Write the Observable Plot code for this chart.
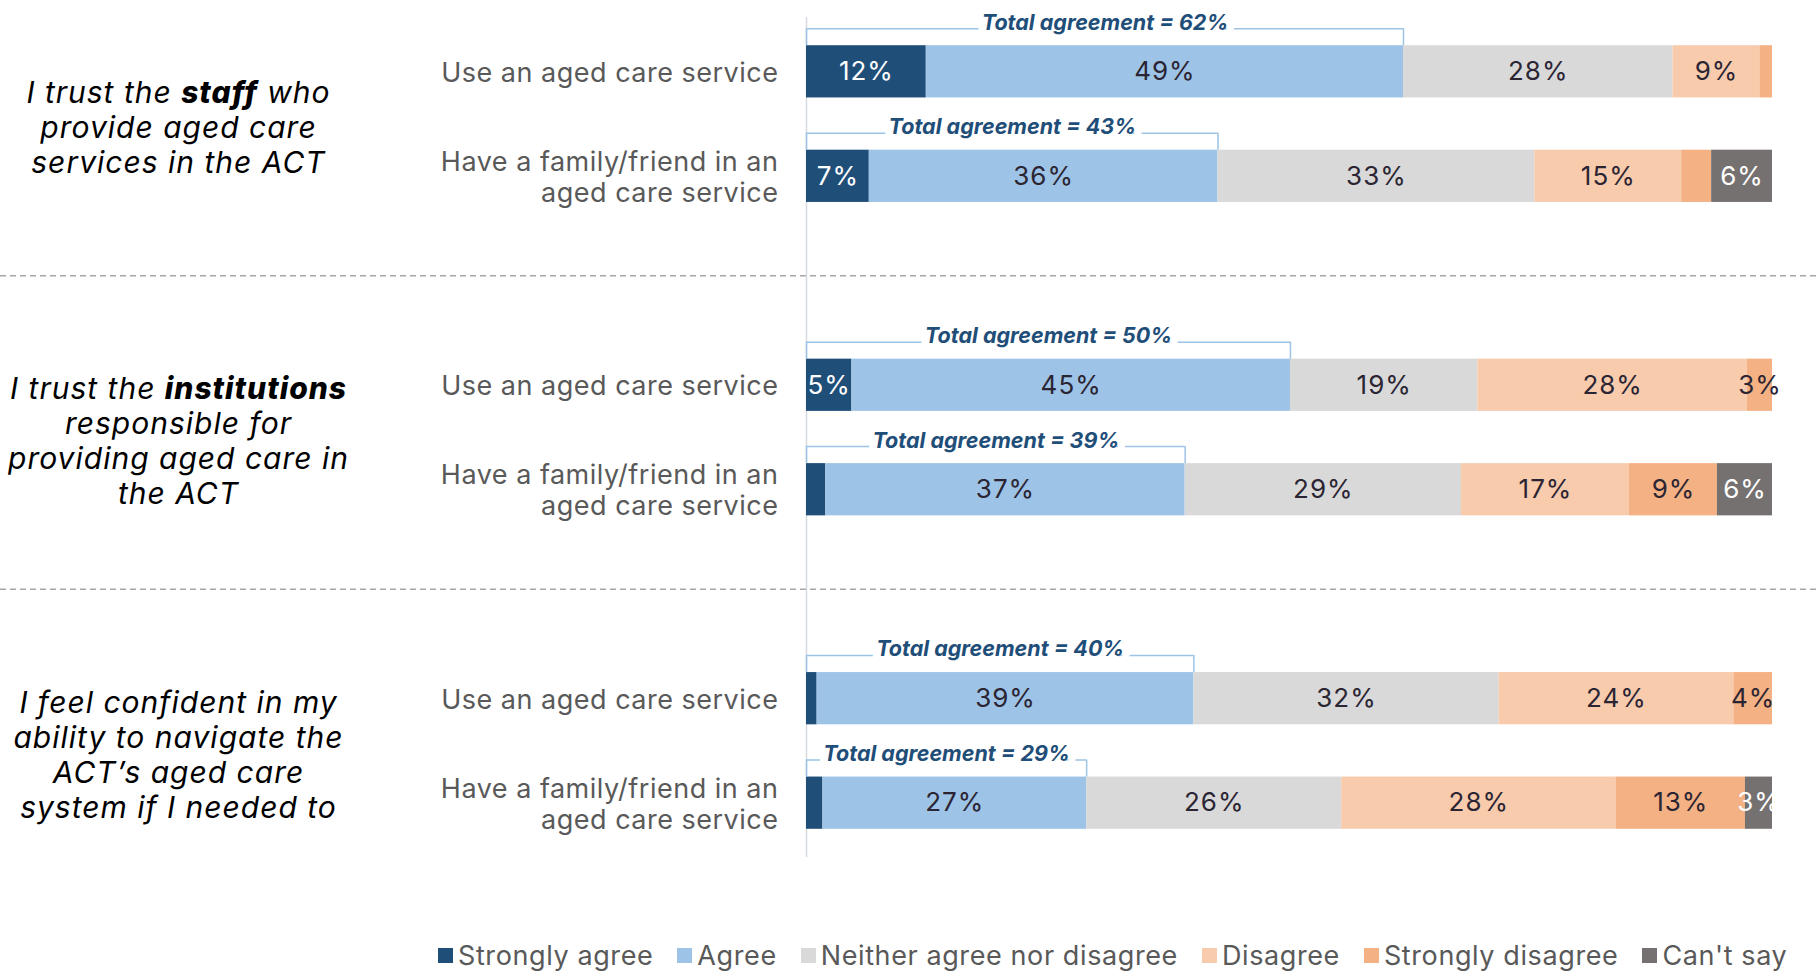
<!DOCTYPE html>
<html>
<head>
<meta charset="utf-8">
<script src="https://cdn.jsdelivr.net/npm/d3@7"></script>
<script src="https://cdn.jsdelivr.net/npm/@observablehq/plot@0.6"></script>
<style>
  html, body { margin: 0; padding: 0; background: #fff; }
  body { width: 1816px; height: 973px; overflow: hidden; font-family: Inter, "Open Sans", sans-serif; }
  #legend { margin-left: 438px; margin-top: 9px; }
  .lg-swatches { font-family: Inter, "Open Sans", sans-serif !important; font-size: 27px !important; letter-spacing: 0.6px; color: #595959 !important; margin: 0 !important; }
  .lg-swatch { margin-right: 24px !important; }
  .lg-swatch > svg { margin-right: 5px !important; }
</style>
</head>
<body>
<div id="chart"></div>
<div id="legend"></div>
<script>
// ---------- data ----------
const categories = ["Strongly agree", "Agree", "Neither agree nor disagree", "Disagree", "Strongly disagree", "Can't say"];
const colors = ["#1f4e79", "#9dc3e6", "#d9d9d9", "#f8cbad", "#f4b183", "#767171"];

const statements = [
  "I trust the staff who\nprovide aged care\nservices in the ACT",
  "I trust the institutions\nresponsible for\nproviding aged care in\nthe ACT",
  "I feel confident in my\nability to navigate the\nACT’s aged care\nsystem if I needed to"
];
const statementKeywords = ["staff", "institutions", null];
const respondents = ["Use an aged care service", "Have a family/friend in an\naged care service"];

// rows: statement 1 (use, family), statement 2 (use, family), statement 3 (use, family)
const stronglyAgree    = [12.4,  6.5,  4.7,  2.0,  1.1,  1.7];
const agree            = [49.4, 36.1, 45.4, 37.2, 39.0, 27.3];
const neither          = [27.9, 32.8, 19.4, 28.6, 31.6, 26.4];
const disagree         = [ 9.0, 15.2, 27.9, 17.4, 24.3, 28.4];
const stronglyDisagree = [ 1.3,  3.1,  2.6,  9.1,  4.0, 13.4];
const cantSay          = [ 0,    6.3,  0,    5.7,  0,    2.8];
// segments shown without a value label: [row, category]
const unlabeled = [[0, "Strongly disagree"], [1, "Strongly disagree"], [3, "Strongly agree"], [4, "Strongly agree"], [5, "Strongly agree"]];

// ---------- derived tables ----------
const series = [stronglyAgree, agree, neither, disagree, stronglyDisagree, cantSay];
const rows = [];
statements.forEach((s, g) => respondents.forEach((r, j) => {
  const i = g * 2 + j;
  rows.push({key: `${g}-${j}`, g, respondent: r, i, total: stronglyAgree[i] + agree[i]});
}));
const yDomain = ["0-0", "0-1", "gap-0", "1-0", "1-1", "gap-1", "2-0", "2-1"];
const segs = rows.flatMap(row => categories.map((c, k) => {
  const v = series[k][row.i];
  const hide = unlabeled.some(([ri, rc]) => ri === row.i && rc === c);
  return {key: row.key, category: c, value: v, label: hide || v === 0 ? "" : Math.round(v) + "%", light: c === "Strongly agree" || c === "Can't say"};
}));
const groups = statements.map((s, g) => ({key: `${g}-0`, text: s, keyword: statementKeywords[g]}));
const bracketEnds = rows.flatMap(r => [{key: r.key, x: 0}, {key: r.key, x: r.total}]);

// ---------- layout ----------
const W = 1816, H = 930, mL = 806, mR = 44, mT = 17, mB = 73;
const pInner = 0.5, pOuter = 0.27;
const step = (H - mT - mB) / (yDomain.length - pInner + 2 * pOuter);
const bw = step * (1 - pInner);
const font = "Inter, 'Open Sans', sans-serif";
const navy = "#1f4e79", lightBlue = "#9dc3e6";

const plot = Plot.plot({
  width: W, height: H,
  marginLeft: mL, marginRight: mR, marginTop: mT, marginBottom: mB,
  style: {fontFamily: font, background: "#fff"},
  x: {domain: [0, 100], axis: null},
  y: {domain: yDomain, axis: null, paddingInner: pInner, paddingOuter: pOuter, round: false},
  color: {domain: categories, range: colors},
  marks: [
    Plot.ruleY(["gap-0", "gap-1"], {y: d => d, stroke: "#a6a6a6", strokeWidth: 1.4, strokeDasharray: "6,4", insetLeft: -mL, insetRight: -mR, dy: -5}),
    Plot.ruleX([0], {stroke: "#d6dae0", strokeWidth: 1.5}),
    Plot.barX(segs, Plot.stackX({x: "value", y: "key", fill: "category"})),
    Plot.text(segs, Plot.stackX({x: "value", y: "key", text: d => d.light ? "" : d.label, fill: "#2b2533", fontSize: 26, fontFamily: font})),
    Plot.text(segs, Plot.stackX({x: "value", y: "key", text: d => d.light ? d.label : "", fill: "#ffffff", fontSize: 26, fontFamily: font})),
    // total agreement brackets
    Plot.tickX(bracketEnds, {x: "x", y: "key", insetTop: -17, insetBottom: bw, stroke: lightBlue, strokeWidth: 1.5}),
    Plot.ruleY(rows, {x1: () => 0, x2: "total", y: "key", dy: -bw / 2 - 17, stroke: lightBlue, strokeWidth: 1.5}),
    Plot.text(rows, {x: d => d.total / 2, y: "key", text: d => `Total agreement = ${Math.round(d.total)}%`, dy: -bw / 2 - 23,
      fill: navy, fontSize: 21.5, fontWeight: 700, fontStyle: "italic", fontFamily: font,
      stroke: "white", strokeWidth: 16, strokeLinejoin: "round", paintOrder: "stroke"}),
    // respondent labels
    Plot.text(rows, {y: "key", text: "respondent", frameAnchor: "left", textAnchor: "end", dx: -28, fontSize: 27, lineHeight: 1.15, fill: "#595959", fontFamily: font}),
    // statement labels
    Plot.text(groups, {y: "key", text: "text", frameAnchor: "left", textAnchor: "middle", dx: 178 - mL, dy: step / 2 + 3,
      fontSize: 30, lineHeight: 1.167, fontStyle: "italic", fill: "#000", fontFamily: font})
  ]
});
document.getElementById("chart").appendChild(plot);

const svg = d3.select(plot);
// letter spacing by text size (to approximate the wide original typeface)
svg.selectAll("g[aria-label='text']").each(function() {
  const fs = +this.getAttribute("font-size");
  const ls = fs === 30 ? 1 : fs === 27 ? 0.5 : fs === 26 ? 1 : 0;
  if (ls) this.setAttribute("letter-spacing", ls);
});
// bold the keyword inside each statement label
svg.selectAll("tspan").each(function() {
  const t = this.textContent;
  for (const kw of statementKeywords) {
    if (!kw) continue;
    const re = new RegExp(`\\b${kw}\\b`);
    if (re.test(t)) {
      const [a, b] = t.split(kw);
      const el = d3.select(this);
      el.text(null);
      el.append("tspan").text(a);
      el.append("tspan").attr("font-weight", 800).text(kw);
      el.append("tspan").text(b);
    }
  }
});

const legend = Plot.legend({
  color: {domain: categories, range: colors},
  legend: "swatches", swatchSize: 15, className: "lg"
});
document.getElementById("legend").appendChild(legend);
</script>
</body>
</html>
